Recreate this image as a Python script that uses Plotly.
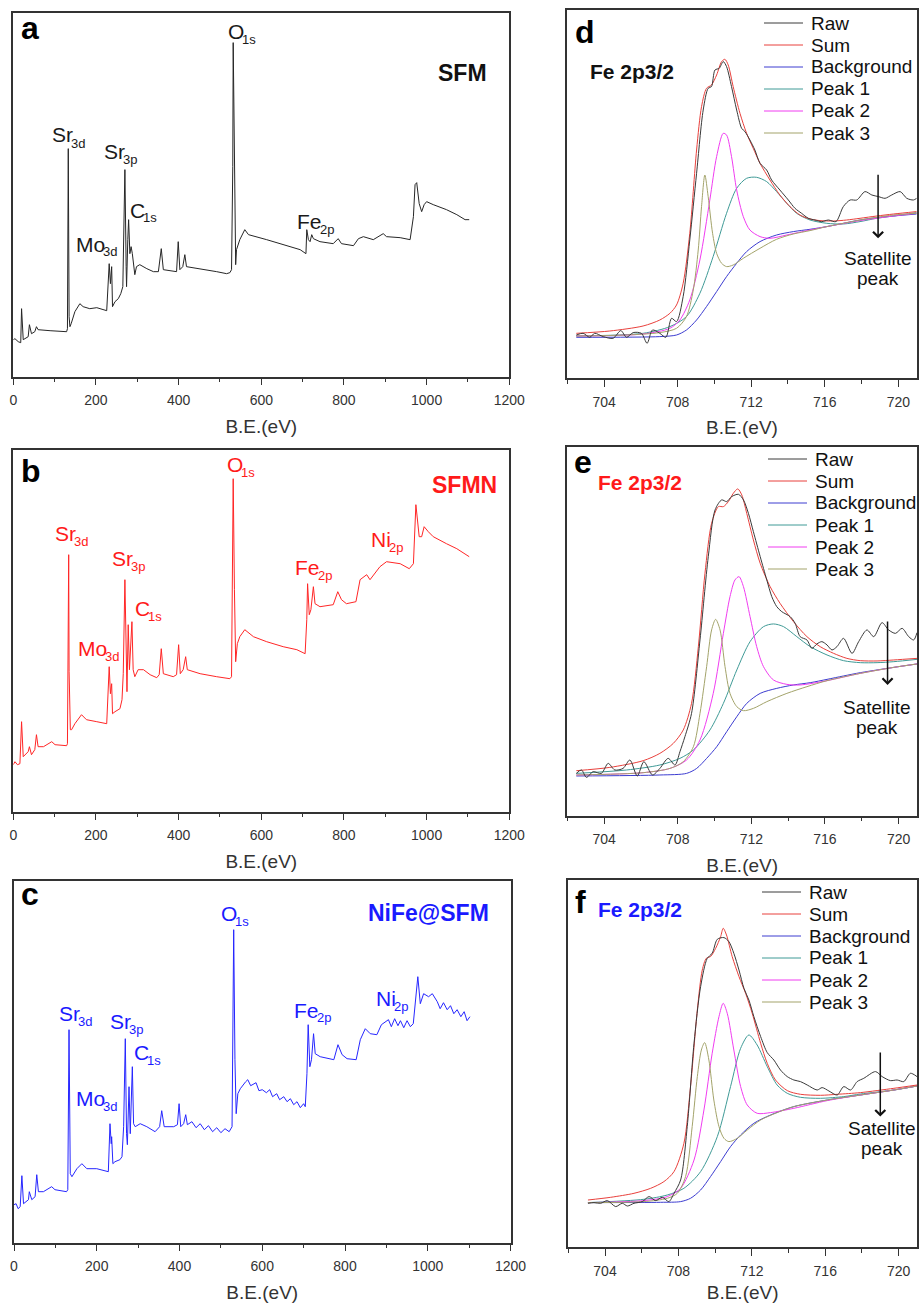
import plotly.graph_objects as go

W, H = 919, 1303
FONT = "Liberation Sans, Arial, sans-serif"

# ---------------- Survey spectra (B.E. in eV, intensity in a.u.) ----------------
sfm_be = [0, 4, 12, 18, 20, 24, 36, 39, 44, 52, 56, 60, 89, 129, 131, 133, 135, 137, 140, 149,
          161, 169, 185, 202, 226, 232, 235, 238, 240, 246, 254, 260, 265, 268, 270, 273, 274, 277,
          279, 282, 285, 288, 290, 294, 298, 306, 323, 339, 351, 358, 363, 387, 395, 399, 403, 410,
          415, 419, 452, 492, 516, 524, 528, 531, 532, 535, 538, 540, 548, 560, 569, 613, 653, 694,
          708, 710, 714, 718, 722, 726, 742, 774, 786, 794, 823, 835, 847, 871, 895, 903, 936, 960,
          968, 972, 976, 982, 988, 994, 1000, 1016, 1048, 1073, 1093, 1103]
sfm_int = [37, 38, 35, 34, 68, 37, 40, 52, 43, 45, 50, 47, 46, 45, 48, 228, 60, 50, 53, 65,
           73, 70, 68, 69, 66, 113, 93, 110, 70, 75, 78, 83, 90, 143, 207, 110, 90, 137,
           157, 123, 130, 123, 117, 102, 110, 112, 108, 105, 105, 128, 107, 105, 105, 135, 107, 110,
           122, 110, 108, 105, 103, 104, 107, 210, 334, 177, 112, 127, 137, 147, 142, 137, 132, 127,
           123, 147, 137, 135, 142, 138, 135, 133, 138, 133, 131, 138, 140, 137, 143, 140, 139, 137,
           160, 192, 194, 173, 165, 172, 175, 172, 167, 162, 157, 157]

sfmn_be = [0, 4, 10, 16, 20, 24, 36, 39, 44, 52, 56, 60, 73, 93, 101, 129, 131, 134, 135, 138,
           141, 149, 165, 177, 202, 226, 232, 235, 238, 240, 246, 258, 263, 266, 270, 273, 275, 278,
           281, 287, 290, 294, 302, 315, 331, 347, 353, 358, 363, 387, 395, 400, 404, 411, 417, 421,
           452, 492, 524, 528, 532, 535, 538, 542, 548, 560, 581, 613, 653, 686, 706, 710, 712, 716,
           720, 726, 730, 742, 774, 785, 794, 806, 829, 839, 855, 863, 887, 903, 936, 958, 968, 974,
           982, 988, 994, 1004, 1016, 1048, 1073, 1103]
sfmn_int = [47, 50, 47, 48, 90, 55, 60, 65, 57, 62, 77, 65, 65, 70, 67, 66, 68, 257, 140, 82,
            82, 88, 97, 92, 90, 88, 145, 118, 128, 98, 100, 103, 112, 138, 232, 138, 120, 187,
            142, 190, 142, 135, 142, 142, 137, 134, 137, 163, 138, 135, 137, 167, 138, 142, 155, 142,
            138, 135, 133, 135, 333, 222, 150, 168, 175, 182, 175, 170, 165, 162, 158, 192, 228, 197,
            202, 225, 208, 205, 207, 220, 212, 208, 210, 232, 237, 232, 245, 250, 248, 243, 248, 307,
            275, 275, 285, 280, 275, 268, 263, 255]

nife_be = [0, 5, 10, 15, 19, 23, 35, 37, 43, 51,
           55, 59, 71, 91, 99, 127, 130, 133, 136, 140,
           152, 164, 176, 200, 228, 232, 235, 236, 239, 244,
           256, 261, 265, 269, 272, 274, 278, 281, 286, 289,
           293, 305, 321, 341, 352, 357, 363, 386, 395, 399,
           403, 410, 415, 419, 430, 440, 450, 460, 470, 480,
           490, 500, 510, 520, 527, 531, 534, 537, 541, 547,
           560, 565, 572, 585, 592, 600, 610, 618, 625, 635,
           642, 652, 660, 668, 676, 684, 692, 700, 704, 708,
           711, 715, 719, 724, 728, 740, 773, 783, 793, 805,
           827, 837, 849, 861, 877, 888, 905, 912, 920, 928,
           934, 942, 950, 958, 965, 970, 976, 982, 990, 1002,
           1011, 1023, 1030, 1038, 1047, 1055, 1063, 1071, 1080, 1088,
           1095, 1102]
nife_int = [38, 39, 34, 36, 67, 39, 43, 51, 43, 46,
            68, 51, 51, 56, 53, 51, 53, 213, 69, 66,
            74, 79, 74, 74, 71, 119, 99, 106, 79, 81,
            83, 86, 116, 204, 109, 98, 156, 109, 176, 119,
            116, 119, 116, 111, 116, 132, 116, 116, 118, 139,
            116, 119, 128, 118, 121, 115, 119, 113, 117, 111,
            115, 110, 114, 111, 116, 313, 183, 129, 149, 154,
            161, 163, 157, 160, 152, 153, 150, 153, 146, 149,
            143, 146, 141, 144, 138, 141, 135, 139, 136, 169,
            218, 176, 183, 209, 189, 186, 183, 198, 188, 184,
            183, 203, 214, 209, 208, 218, 223, 216, 224, 217,
            222, 215, 222, 216, 219, 243, 266, 239, 249, 246,
            249, 241, 234, 240, 233, 237, 229, 233, 226, 231,
            222, 226]

# ---------------- Fe 2p3/2 fits ----------------
# panel d (SFM)
d_raw_be = [702.49, 702.86, 703.22, 703.49, 703.95, 704.49, 704.91, 705.22, 705.58, 706.03, 706.34,
            706.63, 707.03, 707.36, 707.67, 707.94, 708.30, 708.66, 709.03, 709.39, 709.66, 709.84,
            710.03, 710.26, 710.48, 710.66, 710.93, 711.21, 711.48, 711.66, 711.93, 712.20, 712.48,
            712.84, 713.11, 713.56, 714.02, 714.38, 714.74, 715.11, 715.47, 715.83, 716.20, 716.61,
            717.01, 717.38, 717.74, 718.19, 718.56, 718.92, 719.28, 719.64, 720.10, 720.46, 720.82, 721.0]
d_raw = [43.3, 45, 41, 45, 41.7, 40, 47.7, 41, 45.7, 45, 35, 48.3, 45, 41, 60, 56.7, 81.7, 138.3,
         205, 268.3, 290, 291.7, 308.3, 310, 316.7, 311.7, 291.7, 268.3, 250, 246.7, 238.3, 228.3,
         215, 208.3, 198.3, 188.3, 178.3, 170, 165, 160, 158.3, 156.7, 158.3, 156.7, 171.7, 178.3,
         178.3, 186.7, 183.3, 181.7, 180, 183.3, 186.7, 180, 178.3, 180]
d_sum_be = [702.49, 704.31, 706.12, 707.03, 707.58, 707.94, 708.30, 708.66, 709.03, 709.30, 709.57,
            709.84, 710.12, 710.39, 710.57, 710.75, 711.02, 711.39, 711.75, 712.11, 712.48, 713.02,
            713.56, 714.11, 714.65, 715.20, 715.74, 716.47, 717.19, 717.92, 718.83, 719.74, 721.0]
d_sum = [45, 47.3, 52.3, 58.3, 65, 73.3, 95, 145, 228.3, 271.7, 290, 293.3, 303.3, 316.7, 319,
         313.3, 291.7, 265, 245, 230, 215, 198.3, 183.3, 171.7, 163.3, 159.3, 157.7, 157.3, 158.3,
         160, 162.3, 164.3, 166.7]
d_bg_be = [702.49, 707.03, 707.94, 708.48, 709.03, 709.57, 710.12, 710.66, 711.21, 711.75, 712.48,
           713.38, 714.29, 715.20, 716.11, 717.01, 717.92, 718.83, 719.74, 721.0]
d_bg = [41, 41.7, 43.3, 48.3, 58.3, 71.7, 86.7, 101.7, 115, 126.7, 136.7, 143.3, 146.7, 149,
        151.7, 155, 158.3, 160.7, 162.3, 164.3]
d_p1_be = [702.49, 706.12, 707.58, 708.48, 709.21, 709.93, 710.66, 711.21, 711.75, 712.29, 712.84,
           713.38, 713.93, 714.47, 715.20, 716.11, 717.01, 717.92, 718.83, 719.74, 721.0]
d_p1 = [42.3, 45, 51.7, 61.7, 85, 121.7, 165, 190, 200, 201, 196.7, 186.7, 175, 165, 158.3, 155,
        154.3, 156.7, 160, 162.3, 165.7]
d_p2_be = [702.49, 706.12, 707.58, 708.12, 708.66, 709.21, 709.75, 710.12, 710.48, 710.66, 710.93,
           711.21, 711.57, 711.93, 712.48, 713.02, 713.93, 715.20, 716.11, 717.92, 719.74, 721.0]
d_p2 = [42.3, 44.3, 50, 58.3, 78.3, 118.3, 178.3, 221.7, 245, 243.3, 221.7, 188.3, 161.7, 148.3,
        141.7, 140, 143.3, 148.3, 151.7, 157.7, 162.3, 165]
d_p3_be = [702.49, 705.22, 707.03, 707.94, 708.48, 708.85, 709.12, 709.30, 709.48, 709.66, 709.90,
           710.12, 710.39, 710.66, 711.02, 711.57, 712.48, 713.38, 714.29, 715.20, 716.11, 717.01,
           717.92, 718.83, 719.74, 721.0]
d_p3 = [42.3, 43.3, 45.7, 50, 61.7, 88.3, 128.3, 171.7, 203.3, 181.7, 145, 125, 115, 111.7, 113.3,
        120, 130, 139, 144.3, 147.7, 151.7, 155, 158.3, 161, 163.3, 165]

# panel e (SFMN)
e_raw_be = [702.49, 702.77, 703.04, 703.40, 703.85, 704.22, 704.58, 705.03, 705.40, 705.80, 706.16,
            706.63, 707.03, 707.48, 707.85, 708.12, 708.39, 708.75, 709.21, 709.66, 710.03, 710.39,
            710.66, 710.93, 711.30, 711.57, 711.84, 712.11, 712.48, 712.84, 713.11, 713.38, 713.65,
            714.11, 714.38, 714.65, 715.02, 715.29, 715.56, 715.83, 716.11, 716.38, 716.65, 717.01,
            717.47, 717.83, 718.28, 718.65, 719.10, 719.46, 719.83, 720.19, 720.55, 720.82, 721.0]
e_raw = [42.3, 45.7, 38.3, 44, 42.3, 52.3, 45.7, 47.3, 55.7, 39.7, 54, 40.7, 47.3, 57.3, 50.7, 64,
         79, 102.3, 175.7, 259, 305.7, 315.7, 314, 319, 321.3, 315.7, 302.3, 284, 259, 235.7, 219,
         209, 204, 199, 192.3, 179, 175.7, 167.3, 171.7, 174, 170.7, 165.7, 169, 177.3, 162.3, 174,
         185.7, 179, 193, 185.7, 182.3, 187.3, 179, 175.7, 183]
e_sum_be = [702.49, 704.31, 706.12, 707.03, 707.76, 708.30, 708.75, 709.12, 709.48, 709.84, 710.21,
            710.48, 710.75, 711.02, 711.26, 711.48, 711.75, 712.11, 712.48, 713.02, 713.56, 714.29,
            715.02, 715.74, 716.47, 717.19, 717.92, 718.83, 719.74, 721.0]
e_sum = [45, 48.3, 55, 62.3, 72.3, 85.7, 112.3, 169, 242.3, 292.3, 309, 309, 314, 322.3, 326.7,
         320.7, 302.3, 275.7, 252.3, 229, 212.3, 194, 179, 169, 162.3, 157.3, 155, 154.7, 155.7, 157.3]
e_bg_be = [702.49, 707.03, 708.48, 709.03, 709.57, 710.12, 710.66, 711.21, 711.75, 712.48, 713.38,
           714.29, 715.20, 716.11, 717.01, 717.92, 718.83, 719.74, 721.0]
e_bg = [39.7, 40.7, 42.3, 47.3, 57.3, 69, 84, 99, 112.3, 122.3, 127.3, 130.7, 133, 136.3, 139.7,
        143, 145.7, 148.3, 151.7]
e_p1_be = [702.49, 705.22, 707.03, 708.12, 708.85, 709.75, 710.48, 711.21, 711.93, 712.66, 713.20,
           713.75, 714.47, 715.20, 716.11, 717.01, 717.92, 718.83, 719.74, 721.0]
e_p1 = [42.3, 45.7, 50.7, 57.3, 65.7, 85.7, 112.3, 145.7, 174, 189, 191.7, 189, 179, 169, 160.7,
        155, 153, 153, 154, 156.3]
e_p2_be = [702.49, 706.12, 707.58, 708.48, 709.21, 709.93, 710.48, 710.84, 711.11, 711.33, 711.57,
           711.93, 712.29, 712.66, 713.20, 713.93, 714.65, 716.11, 717.92, 719.74, 721.0]
e_p2 = [40.7, 43, 47.3, 55.7, 75.7, 122.3, 182.3, 219, 235.7, 239, 229, 199, 169, 149, 135.7,
        131.3, 130.7, 135, 142.3, 148.3, 151.7]
e_p3_be = [702.49, 706.12, 707.58, 708.30, 708.85, 709.21, 709.57, 709.84, 710.06, 710.30, 710.57,
           710.84, 711.21, 711.57, 712.11, 712.84, 713.93, 715.02, 716.11, 717.92, 719.74, 721.0]
e_p3 = [40.7, 43, 47.3, 54, 69, 102.3, 149, 185.7, 196.3, 185.7, 149, 122.3, 109, 105, 107.3, 114,
        122.3, 129, 135, 142.3, 148.3, 151.7]

# panel f (NiFe@SFM)
f_raw_be = [703.07, 703.40, 703.76, 704.13, 704.58, 704.94, 705.22, 705.58, 706.03, 706.40, 706.76,
            707.12, 707.48, 707.76, 708.12, 708.48, 708.85, 709.21, 709.57, 709.84, 710.12, 710.48,
            710.75, 711.02, 711.30, 711.57, 711.84, 712.11, 712.48, 712.84, 713.20, 713.56, 713.93,
            714.29, 714.65, 715.02, 715.56, 715.83, 716.20, 716.65, 717.01, 717.38, 717.74, 718.10,
            718.74, 719.10, 719.55, 719.92, 720.28, 720.64, 721.0]
f_raw = [44, 44.7, 44, 46.7, 40.7, 44, 41.3, 44, 45.7, 50.7, 46.7, 50, 45.7, 54, 67.3, 120.7, 204,
         260.7, 289, 294, 308, 309.7, 305.7, 294, 277.3, 259, 247.3, 230.7, 210.7, 194.7, 187.3,
         177.3, 170.7, 167.3, 165.7, 162.3, 157.3, 159.7, 156.3, 152.3, 160.7, 157.3, 165.7, 169,
         175.7, 170.7, 166.7, 167.3, 165.7, 174, 170.7]
f_sum_be = [703.07, 704.31, 705.58, 706.49, 707.21, 707.76, 708.30, 708.66, 709.03, 709.30, 709.52,
            709.75, 710.03, 710.30, 710.44, 710.62, 710.93, 711.30, 711.66, 712.02, 712.48, 712.84,
            713.29, 713.93, 714.65, 715.74, 716.65, 717.92, 719.74, 721.0]
f_sum = [47.3, 50, 54, 59, 65.7, 75.7, 104, 160.7, 237.3, 277.3, 289, 290.7, 299, 310.7, 319,
         312.3, 290.7, 270.7, 254, 234, 204, 184, 167.3, 156.7, 153, 152, 153, 154.7, 159, 162.3]
f_bg_be = [703.07, 707.03, 708.12, 708.66, 709.21, 709.75, 710.30, 710.84, 711.39, 712.11, 713.02,
           714.29, 716.11, 717.92, 719.74, 721.0]
f_bg = [44.7, 45, 45.7, 49, 57.3, 70.7, 85.7, 100.7, 112.3, 124, 132.3, 140.7, 147.3, 152.3,
        157.3, 161.3]
f_p1_be = [703.07, 706.12, 707.39, 708.30, 709.21, 710.12, 710.84, 711.39, 711.84, 712.29, 712.84,
           713.38, 713.93, 714.65, 715.74, 717.01, 717.92, 719.74, 721.0]
f_p1 = [44.7, 48, 52.3, 59, 75.7, 110.7, 160.7, 199, 212.3, 202.3, 180.7, 162.3, 154, 150, 149,
        150.7, 153.3, 157.3, 161.3]
f_p2_be = [703.07, 706.12, 707.39, 708.12, 708.85, 709.39, 709.84, 710.21, 710.44, 710.66, 711.02,
           711.39, 711.75, 712.29, 713.02, 714.29, 716.11, 717.92, 719.74, 721.0]
f_p2 = [44.7, 46.7, 50.7, 59, 87.3, 137.3, 194, 230.7, 244, 234, 197.3, 160.7, 142.3, 134, 134.7,
        139, 146.7, 152.3, 157.3, 161.3]
f_p3_be = [703.07, 706.12, 707.39, 707.94, 708.39, 708.75, 709.03, 709.25, 709.43, 709.66, 709.93,
           710.21, 710.48, 710.75, 711.21, 711.75, 712.48, 713.38, 714.29, 716.11, 717.92, 719.74, 721.0]
f_p3 = [44.7, 45.7, 49, 54, 70.7, 120.7, 170.7, 197.3, 204.7, 187.3, 147.3, 120.7, 109, 105.7, 109,
        117.3, 127.3, 134.7, 140.7, 147.3, 152.3, 157.3, 161.3]

legend_names = ["Raw", "Sum", "Background", "Peak 1", "Peak 2", "Peak 3"]
fit_colors = ["#3a3a3a", "#e8403c", "#3c3cd0", "#3f9a96", "#f03cf0", "#a3a36a"]

# ---------------- helpers ----------------
def px(x):
    return x / W

def py(y):
    return 1 - y / H

fig = go.Figure()

# panel boxes in pixels: left, top, right, bottom
boxes = {
    1: (13.3, 13.3, 509.3, 376.7),
    2: (13.3, 450.0, 509.3, 811.7),
    3: (14.0, 880.7, 510.5, 1242.7),
    4: (567.3, 10.0, 916.7, 378.3),
    5: (567.3, 447.3, 917.0, 815.7),
    6: (568.3, 880.0, 917.0, 1247.3),
}
yranges = {1: 363.3, 2: 361.7, 3: 362.0, 4: 368.3, 5: 368.3, 6: 367.3}

survey = [(1, sfm_be, sfm_int, "#262626"), (2, sfmn_be, sfmn_int, "#ff2626"),
          (3, nife_be, nife_int, "#2626ff")]
for k, xs, ys, col in survey:
    sfx = "" if k == 1 else str(k)
    fig.add_trace(go.Scatter(x=xs, y=ys, mode="lines", line=dict(color=col, width=1),
                             xaxis="x" + sfx, yaxis="y" + sfx, showlegend=False))

fits = {
    4: [(d_raw_be, d_raw), (d_sum_be, d_sum), (d_bg_be, d_bg), (d_p1_be, d_p1), (d_p2_be, d_p2), (d_p3_be, d_p3)],
    5: [(e_raw_be, e_raw), (e_sum_be, e_sum), (e_bg_be, e_bg), (e_p1_be, e_p1), (e_p2_be, e_p2), (e_p3_be, e_p3)],
    6: [(f_raw_be, f_raw), (f_sum_be, f_sum), (f_bg_be, f_bg), (f_p1_be, f_p1), (f_p2_be, f_p2), (f_p3_be, f_p3)],
}
draw_order = [2, 3, 4, 5, 1, 0]
for k, series in fits.items():
    for i in draw_order:
        xs, ys = series[i]
        fig.add_trace(go.Scatter(x=xs, y=ys, mode="lines", name=legend_names[i],
                                 line=dict(color=fit_colors[i], width=1, shape="spline", smoothing=0.8),
                                 xaxis="x" + str(k), yaxis="y" + str(k), showlegend=False))

layout = dict(width=W, height=H, margin=dict(l=0, r=0, t=0, b=0, autoexpand=False),
              paper_bgcolor="white", plot_bgcolor="white", showlegend=False,
              font=dict(family=FONT, color="#222"))

for k, (l, t, r, b) in boxes.items():
    sfx = "" if k == 1 else str(k)
    is_survey = k <= 3
    xa = dict(domain=[px(l), px(r)], anchor="y" + sfx, showline=True, mirror=True, automargin=False,
              linecolor="#333", linewidth=1.5, ticks="outside", ticklen=7, tickwidth=1.3,
              tickcolor="#333", showgrid=False, zeroline=False, ticklabelstandoff=3,
              tickfont=dict(family=FONT, size=14, color="#333"),
              title=dict(text="B.E.(eV)", font=dict(family=FONT, size=19, color="#333"), standoff=12))
    if is_survey:
        xa.update(range=[0, 1200], tick0=0, dtick=200,
                  minor=dict(ticks="outside", ticklen=4, dtick=100, tickcolor="#333", showgrid=False))
    else:
        xa.update(range=[702, 721], tick0=704, dtick=4,
                  minor=dict(ticks="outside", ticklen=4, dtick=2, tickcolor="#333", showgrid=False))
    ya = dict(domain=[py(b), py(t)], anchor="x" + sfx, showline=True, mirror=True, automargin=False,
              linecolor="#333", linewidth=1.5, ticks="", showticklabels=False, showgrid=False,
              zeroline=False, range=[0, yranges[k]])
    layout["xaxis" + sfx] = xa
    layout["yaxis" + sfx] = ya

fig.update_layout(**layout)

ann = []
def text(x, y, s, size, color="#111", bold=False, xanchor="left", yanchor="middle"):
    if bold:
        s = "<b>" + s + "</b>"
    ann.append(dict(x=px(x), y=py(y), xref="paper", yref="paper", text=s, showarrow=False,
                    xanchor=xanchor, yanchor=yanchor,
                    font=dict(family=FONT, size=size, color=color)))

# panel letters
for (x, y, s) in [(19, 28.5, "a"), (19, 471, "b"), (19, 894, "c"),
                  (573, 32, "d"), (572, 462, "e"), (573, 902, "f")]:
    text(x, y, s, 32, "#000", bold=True)

# sample names
text(462, 73, "SFM", 23, "#111", bold=True, xanchor="center")
text(464, 485, "SFMN", 23, "#ff1a1a", bold=True, xanchor="center")
text(428, 913, "NiFe@SFM", 23, "#1a1aff", bold=True, xanchor="center")

# element labels: main symbol + subscript drawn as separate texts
MAIN = 21
SUBS = 13
em = {"S": .667, "r": .333, "M": .833, "o": .556, "C": .722, "O": .778, "F": .611,
      "e": .556, "N": .722, "i": .222}
labels_a = [(50, 135, "Sr", "3d"), (102, 151, "Sr", "3p"), (128, 210, "C", "1s"),
            (74, 244, "Mo", "3d"), (226, 31, "O", "1s"), (295, 222, "Fe", "2p")]
labels_b = [(53, 533, "Sr", "3d"), (110, 558, "Sr", "3p"), (133, 608, "C", "1s"),
            (76, 648, "Mo", "3d"), (225, 464, "O", "1s"), (293, 567, "Fe", "2p"), (369, 539, "Ni", "2p")]
labels_c = [(57, 1013, "Sr", "3d"), (108, 1021, "Sr", "3p"), (132, 1052, "C", "1s"),
            (74, 1098, "Mo", "3d"), (219, 913, "O", "1s"), (292, 1010, "Fe", "2p"), (374, 998, "Ni", "2p")]
for labels, col in [(labels_a, "#1a1a1a"), (labels_b, "#ff1a1a"), (labels_c, "#1a1aff")]:
    for (x, y, m, s) in labels:
        text(x, y, m, MAIN, col)
        wmain = sum(em[c] for c in m) * MAIN
        text(x + wmain - 2, y + 8, s, SUBS, col)

# Fe 2p3/2 titles
text(588, 72, "Fe 2p3/2", 21, "#111", bold=True)
text(596, 482, "Fe 2p3/2", 21, "#ff1a1a", bold=True)
text(596, 909, "Fe 2p3/2", 21, "#1a1aff", bold=True)

# legends (line sample + name) for the fit panels
shapes = []
legend_pos = [(764, 803, 809, 23), (768, 807, 813, 459), (762, 801, 807, 892)]
for (x0, x1, xt, y0) in legend_pos:
    for i, name in enumerate(legend_names):
        yy = y0 + 22 * i
        shapes.append(dict(type="line", xref="paper", yref="paper", x0=px(x0), x1=px(x1),
                           y0=py(yy), y1=py(yy), line=dict(color=fit_colors[i], width=1)))
        text(xt, yy, name, 19, "#111")

# satellite annotations
for (k, xe, ytop, ybot, tx, ty) in [(4, 718.9, 205, 140, 878, 258),
                                     (5, 719.4, 195.7, 130.7, 877, 707),
                                     (6, 719.0, 196.3, 130.7, 882, 1128)]:
    ann.append(dict(x=xe, y=ybot, ax=xe, ay=ytop, xref="x" + str(k), yref="y" + str(k),
                    axref="x" + str(k), ayref="y" + str(k), text="", showarrow=True,
                    arrowhead=4, arrowsize=1.3, arrowwidth=1.5, arrowcolor="#111"))
    text(tx, ty, "Satellite", 19, "#111", xanchor="center")
    text(tx, ty + 20, "peak", 19, "#111", xanchor="center")

fig.update_layout(annotations=ann, shapes=shapes)
fig.write_html("out.html")
